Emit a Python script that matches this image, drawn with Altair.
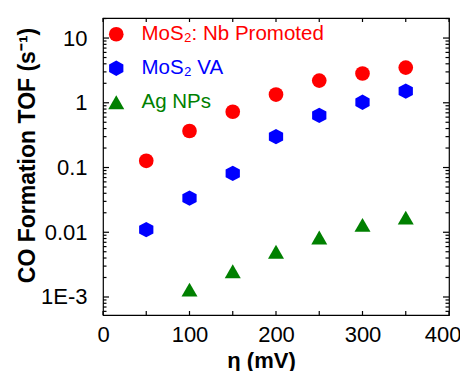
import altair as alt
import pandas as pd

# ---- data ----
series_names = ["MoS₂: Nb Promoted", "MoS₂ VA", "Ag NPs"]
series_colors = ["#ff0000", "#0000ff", "#008000"]

nb_x = [50, 100, 150, 200, 250, 300, 350]
nb_y = [0.127, 0.366, 0.727, 1.34, 2.2, 2.83, 3.5]

va_x = [50, 100, 150, 200, 250, 300, 350]
va_y = [0.011, 0.0337, 0.081, 0.30, 0.64, 1.02, 1.51]

ag_x = [100, 150, 200, 250, 300, 350]
ag_y = [0.0013, 0.0025, 0.005, 0.0083, 0.013, 0.0168]

x_ticks = [0, 50, 100, 150, 200, 250, 300, 350, 400]
x_labels_mid = [0, 100, 200, 300]
x_labels_end = [400]
y_major = [0.001, 0.01, 0.1, 1, 10]
y_minor = [k * 10.0 ** d for d in range(-4, 2) for k in range(2, 10)
           if 5.3e-4 <= k * 10.0 ** d <= 20.4]

rows = []
for name, xs_, ys_ in [(series_names[0], nb_x, nb_y),
                       (series_names[1], va_x, va_y),
                       (series_names[2], ag_x, ag_y)]:
    for a, b in zip(xs_, ys_):
        rows.append({"series": name, "x": a, "y": b})
df = pd.DataFrame(rows)

FONT = "Liberation Sans"
HEX = "M0,-1L0.93,-0.5L0.93,0.5L0,1L-0.93,0.5L-0.93,-0.5Z"
W, H = 346, 297
XT, YMAJ, YMIN = 4, 6, 3.5  # inward tick lengths

xs = alt.Scale(domain=[0, 400], nice=False, zero=False)
ys = alt.Scale(type="log", domain=[5.27e-4, 20.4], nice=False)

legend = alt.Legend(
    title=None, orient="none", legendX=3, legendY=6, padding=0,
    labelFont=FONT, labelFontSize=20.5, labelOffset=15, rowPadding=13,
    labelLimit=400,
    labelColor={"expr": "indexof(datum.label, 'Ag') == 0 ? '#008000' : (indexof(datum.label, 'VA') > 0 ? '#0000ff' : '#ff0000')"},
    symbolStrokeWidth=0, symbolOpacity=1,
)

common = dict(domain=False, grid=False, ticks=False,
              labelFont=FONT, labelColor="black", titleFont=FONT,
              labelFlush=False, labelOverlap=False)

ax_bottom = alt.Axis(orient="bottom", values=x_labels_mid,
                     labelPadding=9, labelFontSize=22,
                     title="η (mV)", titleFontSize=22, titleFontWeight="bold",
                     titleColor="black", titleBaseline="alphabetic",
                     titleX=158, titleY=52, **common)
ax_bottom_end = alt.Axis(orient="bottom", values=x_labels_end,
                         labelPadding=9, labelFontSize=22, labelAlign="right",
                         labelOffset=12, title=None, **common)
ax_left = alt.Axis(orient="left", values=y_major,
                   labelExpr="datum.value < 0.005 ? '1E-3' : format(datum.value, '~g')",
                   labelPadding=16, labelFontSize=22,
                   title="CO Formation TOF (s⁻¹)", titleFontSize=23,
                   titleFontWeight="bold", titleColor="black",
                   titleBaseline="alphabetic", titleAngle=-90,
                   titleX=-69, titleY=137, **common)

base = alt.Chart(df)

points = base.mark_point(filled=True, opacity=1, strokeWidth=0).encode(
    x=alt.X("x:Q", scale=xs, axis=ax_bottom),
    y=alt.Y("y:Q", scale=ys, axis=ax_left),
    color=alt.Color("series:N", scale=alt.Scale(domain=series_names, range=series_colors), legend=legend),
    shape=alt.Shape("series:N", scale=alt.Scale(domain=series_names, range=["circle", HEX, "triangle-up"]), legend=legend),
    size=alt.Size("series:N", scale=alt.Scale(domain=series_names, range=[215, 256, 324]), legend=legend),
)

end_label = base.mark_point(opacity=0).encode(
    x=alt.X("x:Q", scale=xs, axis=ax_bottom_end),
    y=alt.Y("y:Q", scale=ys, axis=None),
)

xt = pd.DataFrame({"v": x_ticks})
ymaj = pd.DataFrame({"v": y_major})
ymin = pd.DataFrame({"v": y_minor})

rule = dict(color="black", strokeWidth=1.2)


def xtick(y0, y1):
    return alt.Chart(xt).mark_rule(**rule).encode(
        x=alt.X("v:Q", scale=xs, axis=None), y=alt.value(y0), y2=alt.value(y1))


def ytick(frame, x0, x1):
    return alt.Chart(frame).mark_rule(**rule).encode(
        y=alt.Y("v:Q", scale=ys, axis=None), x=alt.value(x0), x2=alt.value(x1))


chart = alt.layer(
    points,
    end_label,
    xtick(H, H - XT),
    xtick(0, XT),
    ytick(ymaj, 0, YMAJ),
    ytick(ymaj, W - YMAJ, W),
    ytick(ymin, 0, YMIN),
    ytick(ymin, W - YMIN, W),
).resolve_axis(x="independent", y="independent").properties(
    width=W, height=H,
    autosize=alt.AutoSizeParams(type="none"),
    padding={"left": 95, "top": 10, "right": 11, "bottom": 56},
    background="white",
).configure_view(stroke="black", strokeWidth=1.2)

chart.save("out.html", embed_options={"renderer": "svg", "actions": False})
